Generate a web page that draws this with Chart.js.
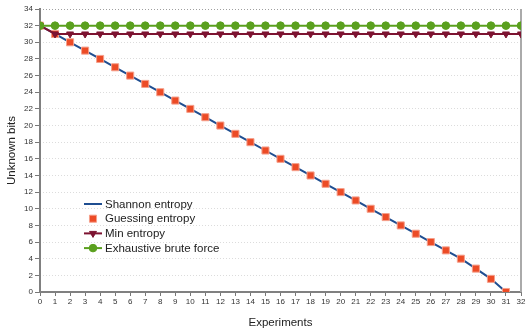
<!DOCTYPE html>
<html>
<head>
<meta charset="utf-8">
<script src="https://cdn.jsdelivr.net/npm/chart.js@4/dist/chart.umd.min.js"></script>
<style>
html,body{margin:0;padding:0;background:#fff;}
#wrap{width:532px;height:331px;position:relative;}
</style>
</head>
<body>
<div id="wrap"><canvas id="c" width="532" height="331"></canvas></div>
<script>
// ---- data ----
const experiments = [0,1,2,3,4,5,6,7,8,9,10,11,12,13,14,15,16,17,18,19,20,21,22,23,24,25,26,27,28,29,30,31,32];
const shannonEntropy  = [32,31,30,29,28,27,26,25,24,23,22,21,20,19,18,17,16,15,14,13,12,11,10,9,8,7,6,5,4,2.81,1.58,0];
const guessingEntropy = [32,31,30,29,28,27,26,25,24,23,22,21,20,19,18,17,16,15,14,13,12,11,10,9,8,7,6,5,4,2.81,1.58,0];
const minEntropy      = [32,31,31,31,31,31,31,31,31,31,31,31,31,31,31,31,31,31,31,31,31,31,31,31,31,31,31,31,31,31,31,31,31];
const bruteForce      = [32,32,32,32,32,32,32,32,32,32,32,32,32,32,32,32,32,32,32,32,32,32,32,32,32,32,32,32,32,32,32,32,32];
const seriesNames = ['Shannon entropy','Guessing entropy','Min entropy','Exhaustive brute force'];
const yTicks = [0,2,4,6,8,10,12,14,16,18,20,22,24,26,28,30,32,34];

const pts = arr => arr.map((v,i)=>({x:experiments[i], y:v}));

const FONT = "'Liberation Sans', Arial, sans-serif";

const framePlugin = {
  id:'frame',
  beforeDatasetsDraw(chart){
    const {ctx, chartArea:a} = chart;
    ctx.save();
    ctx.setLineDash([]);
    ctx.strokeStyle = '#aaaaaa'; ctx.lineWidth = 2;
    ctx.beginPath(); ctx.moveTo(a.right, a.top); ctx.lineTo(a.right, a.bottom); ctx.stroke();
    ctx.strokeStyle = '#808080';
    ctx.beginPath(); ctx.moveTo(a.left, a.top-1); ctx.lineTo(a.left, a.bottom); ctx.stroke();
    ctx.restore();
  },
  afterDatasetsDraw(chart){
    const ctx = chart.ctx;
    const x0 = 84, x1 = 102, tx = 105, y0 = 204, dy = 14.7;
    ctx.save();
    chart.data.datasets.forEach((ds,k)=>{
      const y = y0 + k*dy;
      if (ds.showLine !== false) {
        ctx.strokeStyle = ds.borderColor; ctx.lineWidth = 2; ctx.setLineDash([]);
        ctx.beginPath(); ctx.moveTo(x0,y); ctx.lineTo(x1,y); ctx.stroke();
      }
      if (ds.pointRadius > 0) {
        ctx.fillStyle = ds.backgroundColor;
        ctx.strokeStyle = ds.pointBorderColor || ds.borderColor;
        ctx.lineWidth = 1;
        Chart.helpers.drawPoint(ctx, {pointStyle: ds.pointStyle, rotation: ds.pointRotation||0, radius: ds.pointRadius, borderWidth: 1}, (x0+x1)/2, y);
      }
      ctx.fillStyle = '#222';
      ctx.font = '11.5px ' + FONT;
      ctx.textBaseline = 'middle';
      ctx.textAlign = 'left';
      ctx.fillText(seriesNames[k], tx, y+0.5);
    });
    ctx.restore();
  }
};

new Chart(document.getElementById('c'), {
  type:'line',
  data:{
    datasets:[
      {label:seriesNames[0], data:pts(shannonEntropy), borderColor:'#1f4e91', backgroundColor:'#1f4e91', borderWidth:2, pointRadius:0, order:3},
      {label:seriesNames[1], data:pts(guessingEntropy), showLine:false, borderColor:'#f6a08c', pointBorderColor:'#f6a08c', backgroundColor:'#ec4b26', pointBackgroundColor:'#ec4b26', pointStyle:'rect', pointRadius:5, pointBorderWidth:1, order:2},
      {label:seriesNames[2], data:pts(minEntropy), borderColor:'#7d1331', backgroundColor:'#7d1331', borderWidth:2, pointStyle:'triangle', pointRotation:180, pointRadius:4, pointBorderWidth:1, order:1},
      {label:seriesNames[3], data:pts(bruteForce), borderColor:'#5aa01e', backgroundColor:'#5aa01e', borderWidth:2, pointStyle:'circle', pointRadius:3.8, pointBorderWidth:1, order:0}
    ]
  },
  options:{
    responsive:false, animation:false, devicePixelRatio:1,
    layout:{padding:{top:9,right:11,left:0,bottom:0}},
    plugins:{legend:{display:false}, tooltip:{enabled:false}},
    elements:{line:{tension:0}},
    scales:{
      x:{
        type:'linear', min:0, max:32,
        afterFit(s){ s.height = 39; },
        ticks:{stepSize:1, autoSkip:false, maxRotation:0, padding:1, color:'#333', font:{size:8, family:FONT}},
        grid:{drawOnChartArea:false, drawTicks:true, tickLength:4, tickColor:'#777', tickWidth:1},
        border:{display:true, color:'#808080', width:2},
        title:{display:true, text:'Experiments', color:'#222', font:{size:11.5, family:FONT}, padding:{top:0,bottom:1}}
      },
      y:{
        type:'linear', min:0, max:34,
        afterFit(s){ s.width = 40; },
        afterBuildTicks(s){ s.ticks = yTicks.map(v=>({value:v})); },
        ticks:{padding:2, color:'#333', font:{size:8, family:FONT}},
        grid:{drawOnChartArea:true, tickLength:5, tickColor:'#777', tickWidth:1, tickBorderDash:[], lineWidth:1,
              color:(c)=> c.tick && c.tick.value===34 ? '#a0a0a0' : (c.tick && c.tick.value===0 ? 'rgba(0,0,0,0)' : '#dcdcdc')},
        border:{display:false, dash:[1,2]},
        title:{display:true, text:'Unknown bits', color:'#222', font:{size:11.5, family:FONT}, padding:{top:5,bottom:0}}
      }
    }
  },
  plugins:[framePlugin]
});
</script>
</body>
</html>
